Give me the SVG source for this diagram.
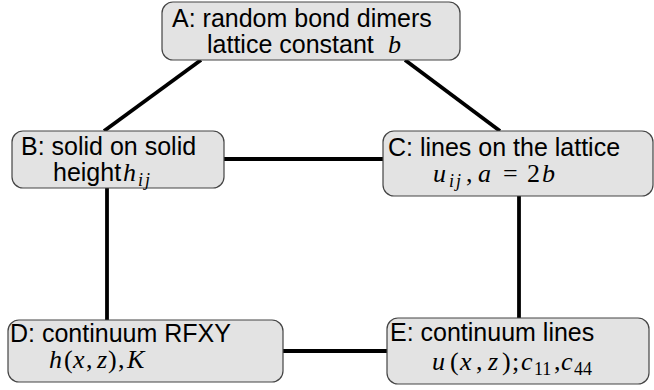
<svg xmlns="http://www.w3.org/2000/svg" width="654" height="390" viewBox="0 0 654 390">
<style>
.box{fill:#e3e3e3;stroke:#444;stroke-width:1.2}
.t{font-family:"Liberation Sans",Arial,sans-serif;font-size:25px;fill:#000}
.m{font-family:"Liberation Serif","Times New Roman",serif;font-style:italic;font-size:26px}
.r{font-family:"Liberation Serif","Times New Roman",serif;font-style:normal;font-size:26px}
.s{font-family:"Liberation Serif","Times New Roman",serif;font-style:italic;font-size:18px}
.sr{font-family:"Liberation Serif","Times New Roman",serif;font-style:normal;font-size:18px}
.e{stroke:#000;stroke-width:3.8;fill:none}
</style>
<g id="edges">
<line class="e" x1="201" y1="60" x2="104" y2="131"/>
<line class="e" x1="405" y1="60" x2="500" y2="131"/>
<line class="e" x1="224" y1="159" x2="383" y2="159"/>
<line class="e" x1="107" y1="188" x2="107" y2="320"/>
<line class="e" x1="519" y1="196" x2="519" y2="318"/>
<line class="e" x1="283" y1="351" x2="387" y2="351"/>
</g>
<g id="A">
<rect class="box" x="162" y="2" width="298" height="58" rx="11"/>
<text class="t" x="172" y="27">A: random bond dimers</text>
<text class="t" x="207" y="53">lattice constant</text>
<text class="m" x="388" y="53">b</text>
</g>
<g id="B">
<rect class="box" x="12" y="131" width="212" height="57" rx="11"/>
<text class="t" x="21" y="155">B: solid on solid</text>
<text class="t" x="53" y="181">height</text>
<text class="m" x="123" y="181">h<tspan class="s" x="138" dy="5">i</tspan><tspan class="s" x="145">j</tspan></text>
</g>
<g id="C">
<rect class="box" x="383" y="131" width="270" height="65" rx="11"/>
<text class="t" x="388" y="156">C: lines on the lattice</text>
<text class="m" x="433" y="182">u<tspan class="s" x="449" dy="5">i</tspan><tspan class="s" x="456">j</tspan><tspan class="r" x="466" dy="-5">,</tspan><tspan x="478">a</tspan><tspan class="r" x="503">=</tspan><tspan class="r" x="527">2</tspan><tspan x="542">b</tspan></text>
</g>
<g id="D">
<rect class="box" x="8" y="320" width="275" height="62" rx="11"/>
<text class="t" x="10" y="342">D: continuum RFXY</text>
<text class="m" x="49" y="368">h<tspan class="r" x="64">(</tspan><tspan x="73">x</tspan><tspan class="r" x="86">,</tspan><tspan x="97">z</tspan><tspan class="r" x="108">)</tspan><tspan class="r" x="118">,</tspan><tspan x="127">K</tspan></text>
</g>
<g id="E">
<rect class="box" x="387" y="318" width="262" height="66" rx="11"/>
<text class="t" x="390" y="341">E: continuum lines</text>
<text class="m" x="432" y="370">u<tspan class="r" x="450">(</tspan><tspan x="460">x</tspan><tspan class="r" x="476">,</tspan><tspan x="488">z</tspan><tspan class="r" x="502">)</tspan><tspan class="r" x="512">;</tspan><tspan x="521">c</tspan><tspan class="sr" x="534" dy="5">11</tspan><tspan class="r" x="554" dy="-5">,</tspan><tspan x="561">c</tspan><tspan class="sr" x="574" dy="5">44</tspan></text>
</g>
</svg>
